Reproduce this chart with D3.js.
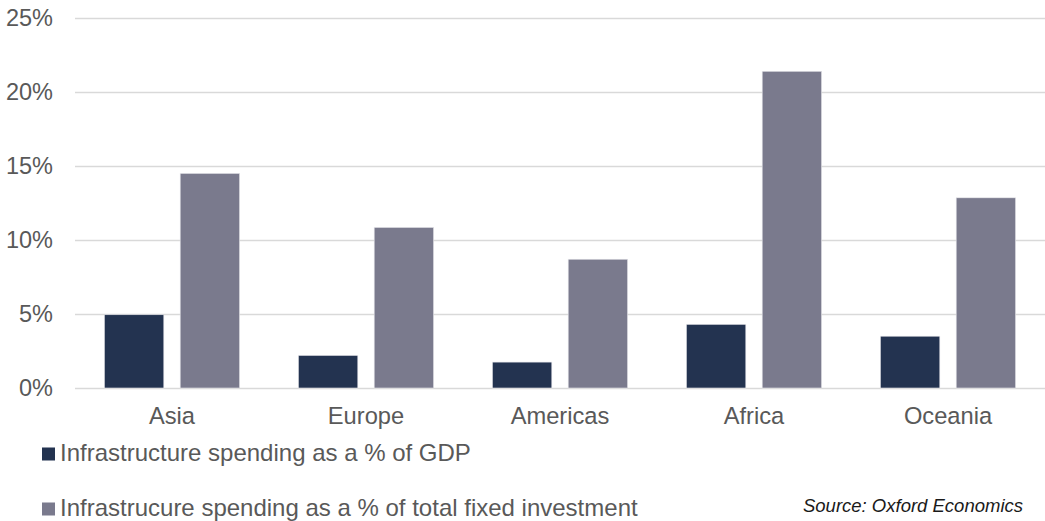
<!DOCTYPE html>
<html>
<head>
<meta charset="utf-8">
<script src="https://cdn.jsdelivr.net/npm/d3@7"></script>
<style>
  html, body { margin: 0; padding: 0; background: #fff; }
  svg { display: block; font-family: "Liberation Sans", Arial, sans-serif; }
</style>
</head>
<body>
<svg id="chart" width="1045" height="521"></svg>
<script>
const categories = ["Asia", "Europe", "Americas", "Africa", "Oceania"];
const seriesNames = [
  "Infrastructure spending as a % of GDP",
  "Infrastrucure spending as a % of total fixed investment"
];
const gdpShare = [4.95, 2.2, 1.75, 4.3, 3.5];
const fixedInvShare = [14.5, 10.85, 8.7, 21.4, 12.85];
const yTicks = [0, 5, 10, 15, 20, 25];
const sourceText = "Source: Oxford Economics";
const colors = ["#233350", "#7a7a8d"];

(function () {
const svg = d3.select("#chart");
const mLeft = 75, mRight = 1045, mTop = 18, mBottom = 388;

const x0 = d3.scaleBand().domain(categories).range([mLeft, mRight]).padding(0);
const x1 = d3.scaleBand().domain([0, 1]).range([29.4, 164.6]).paddingInner(0.216).paddingOuter(0);
const y = d3.scaleLinear().domain([0, 25]).range([mBottom, mTop]);

// gridlines
const yAxis = d3.axisLeft(y).tickValues(yTicks).tickFormat(d => d + "%").tickSize(-(mRight - mLeft)).tickPadding(22);
const gy = svg.append("g").attr("transform", `translate(${mLeft},0)`).call(yAxis);
gy.select(".domain").remove();
gy.selectAll(".tick line").attr("stroke", "#d9d9d9").attr("stroke-width", 1.5);
gy.selectAll(".tick text").attr("fill", "#595959").style("font-size", "23.5px");

// bars
const data = categories.map((c, i) => ({ c, vals: [gdpShare[i], fixedInvShare[i]] }));
const groups = svg.append("g").selectAll("g").data(data).join("g")
  .attr("transform", d => `translate(${x0(d.c)},0)`);
groups.selectAll("rect").data(d => d.vals.map((v, k) => ({ v, k }))).join("rect")
  .attr("x", d => x1(d.k))
  .attr("width", x1.bandwidth())
  .attr("y", d => y(d.v))
  .attr("height", d => y(0) - y(d.v))
  .attr("fill", d => colors[d.k])
  .attr("stroke", "#e6e6ea").attr("stroke-width", 0.6);

// x axis labels
const xAxis = d3.axisBottom(x0).tickSize(0).tickPadding(19);
const gx = svg.append("g").attr("transform", `translate(0,${mBottom})`).call(xAxis);
gx.select(".domain").remove();
gx.selectAll(".tick text").attr("fill", "#595959").style("font-size", "23.7px");

// legend
const legendY = [461, 516];
const lg = svg.append("g").selectAll("g").data(seriesNames).join("g");
lg.append("rect")
  .attr("x", 42).attr("y", (d, i) => legendY[i] - 13.5)
  .attr("width", 13).attr("height", 13)
  .attr("fill", (d, i) => colors[i]);
lg.append("text")
  .attr("x", 60).attr("y", (d, i) => legendY[i])
  .attr("fill", "#595959").style("font-size", "24px")
  .text(d => d);

// source
svg.append("text")
  .attr("x", 1023).attr("y", 512)
  .attr("text-anchor", "end")
  .attr("fill", "#1a1a1a")
  .style("font-size", "18.5px").style("font-style", "italic")
  .text(sourceText);
})();
</script>
</body>
</html>
